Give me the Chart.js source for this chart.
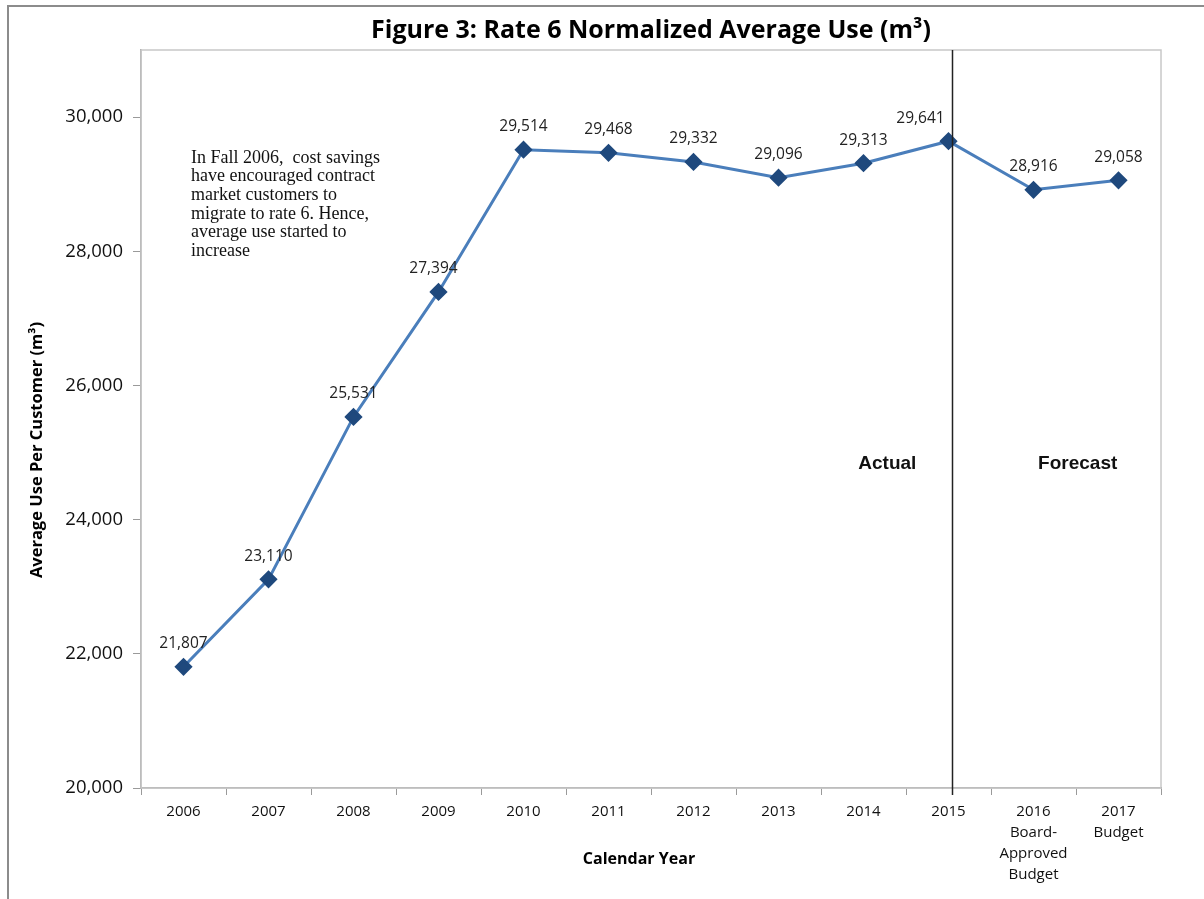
<!DOCTYPE html>
<html lang="en">
<head>
    <meta charset="UTF-8">
    <title>Rate 6 Normalized Average Use</title>
    <script src="https://cdn.jsdelivr.net/npm/chart.js@4.4.1/dist/chart.umd.min.js"></script>
    <style>
        html, body { margin: 0; padding: 0; background: #fff; }
        #wrap { width: 1204px; height: 899px; position: relative; }
    </style>
</head>
<body>
    <div id="wrap">
        <canvas id="myChart" width="1204" height="899"></canvas>
    </div>
<script type="text/javascript">
    // data
    let years = ['2006', '2007', '2008', '2009', '2010', '2011', '2012', '2013', '2014', '2015',
        ['2016', 'Board-', 'Approved', 'Budget'], ['2017', 'Budget']];
    let avgUse = [21807, 23110, 25531, 27394, 29514, 29468, 29332, 29096, 29313, 29641, 28916, 29058];
    let yTicks = [20000, 22000, 24000, 26000, 28000, 30000];
    let lastActual = 9; // index of 2015, where the forecast starts

    let titleText = 'Figure 3: Rate 6 Normalized Average Use (m\u00B3)';
    let noteLines = ['In Fall 2006,  cost savings', 'have encouraged contract', 'market customers to',
        'migrate to rate 6. Hence,', 'average use started to', 'increase'];

    const sansFont = "'Open Sans', sans-serif";

    let extras = {
        id: 'extras',
        afterDraw(chart) {
            const ctx = chart.ctx;
            const a = chart.chartArea;
            const xs = chart.scales.x;
            const ys = chart.scales.y;
            const meta = chart.getDatasetMeta(0);
            ctx.save();

            // outer frame
            ctx.strokeStyle = '#8c8c8c';
            ctx.lineWidth = 2;
            ctx.beginPath();
            ctx.moveTo(8, 899);
            ctx.lineTo(8, 6);
            ctx.lineTo(1204, 6);
            ctx.stroke();

            // plot border
            ctx.strokeStyle = '#c8c8c8';
            ctx.lineWidth = 1.5;
            ctx.strokeRect(a.left, a.top, a.right - a.left, a.bottom - a.top);

            // actual / forecast divider
            const divX = meta.data[lastActual].x + 4;
            ctx.strokeStyle = '#222';
            ctx.lineWidth = 1.5;
            ctx.beginPath();
            ctx.moveTo(divX, a.top);
            ctx.lineTo(divX, a.bottom + 7);
            ctx.stroke();

            // title
            ctx.fillStyle = '#000';
            ctx.textAlign = 'center';
            ctx.textBaseline = 'middle';
            ctx.font = "bold 25px " + sansFont;
            ctx.fillText(titleText, (a.left + a.right) / 2, 31);

            // axis titles
            ctx.font = "bold 16px " + sansFont;
            ctx.fillText('Calendar Year', (a.left + a.right) / 2 - 12, 859);
            ctx.save();
            ctx.translate(37, 450);
            ctx.rotate(-Math.PI / 2);
            ctx.font = "bold 16.5px " + sansFont;
            ctx.fillText('Average Use Per Customer (m\u00B3)', 0, 0);
            ctx.restore();

            // data labels
            ctx.font = "15.5px " + sansFont;
            ctx.fillStyle = '#222';
            meta.data.forEach(function (pt, i) {
                let dx = 0;
                if (i === lastActual) dx = -28;
                if (i === 3) dx = -5;
                ctx.fillText(avgUse[i].toLocaleString('en-US'), pt.x + dx, pt.y - 23);
            });

            // Actual / Forecast
            ctx.font = "bold 19px 'Liberation Sans', Arial, sans-serif";
            ctx.fillStyle = '#111';
            const labelY = ys.getPixelForValue(24840);
            ctx.fillText('Actual', xs.getPixelForValue(8.28), labelY);
            ctx.fillText('Forecast', xs.getPixelForValue(10.52), labelY);

            // note
            ctx.font = "18px 'Liberation Serif', 'Times New Roman', serif";
            ctx.textAlign = 'left';
            ctx.textBaseline = 'top';
            ctx.fillStyle = '#111';
            noteLines.forEach(function (line, i) {
                ctx.fillText(line, a.left + 50, 149 + i * 18.6);
            });

            ctx.restore();
        }
    };

    let ctx = document.getElementById('myChart').getContext('2d');
    window.lineChart = new Chart(ctx, {
        type: 'line',
        data: {
            labels: years,
            datasets: [{
                data: avgUse,
                borderColor: '#4a7ebb',
                borderWidth: 3,
                pointStyle: 'rectRot',
                pointRadius: 7,
                pointHoverRadius: 7,
                pointBackgroundColor: '#1f497d',
                pointBorderColor: '#1f497d',
                tension: 0
            }]
        },
        options: {
            responsive: false,
            animation: false,
            layout: { padding: { top: 50, right: 43, left: 0, bottom: 0 } },
            plugins: {
                legend: { display: false },
                tooltip: { enabled: false }
            },
            scales: {
                x: {
                    offset: true,
                    afterFit: function (scale) { scale.height = 111; },
                    grid: {
                        offset: true,
                        drawOnChartArea: false,
                        drawTicks: true,
                        tickLength: 7,
                        color: '#9a9a9a'
                    },
                    border: { color: '#9a9a9a', width: 1.5 },
                    ticks: {
                        maxRotation: 0,
                        autoSkip: false,
                        padding: 6,
                        color: '#111',
                        font: { family: sansFont, size: 15, lineHeight: 1.4 }
                    }
                },
                y: {
                    min: 20000,
                    max: 31000,
                    afterFit: function (scale) { scale.width = 141; },
                    afterBuildTicks: function (scale) {
                        scale.ticks = yTicks.map(function (v) { return { value: v }; });
                    },
                    grid: {
                        drawOnChartArea: false,
                        drawTicks: true,
                        tickLength: 8,
                        color: '#9a9a9a'
                    },
                    border: { color: '#9a9a9a', width: 1.5 },
                    ticks: {
                        padding: 10,
                        color: '#111',
                        font: { family: sansFont, size: 18.5 },
                        callback: function (v) { return Number(v).toLocaleString('en-US'); }
                    }
                }
            }
        },
        plugins: [extras]
    });
</script>
</body>
</html>
